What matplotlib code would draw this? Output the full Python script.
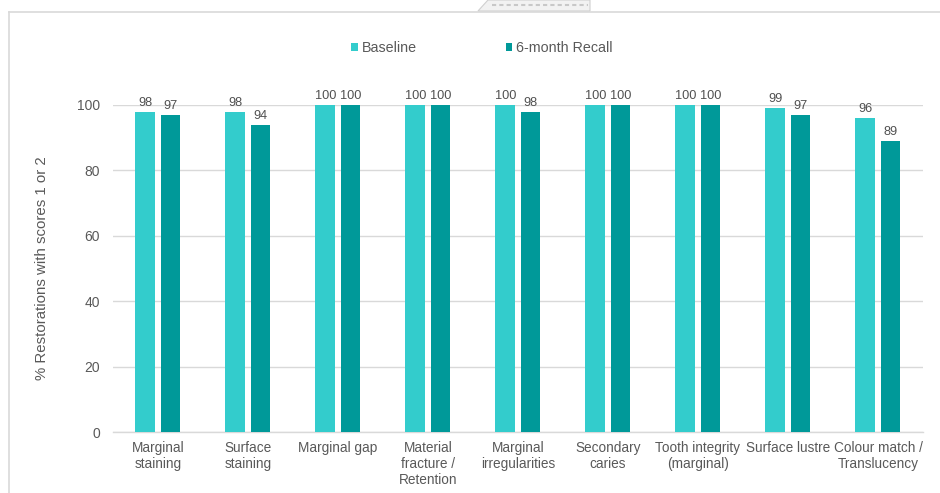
import matplotlib
matplotlib.use("Agg")
import matplotlib.pyplot as plt
import numpy as np
from matplotlib.lines import Line2D
from matplotlib.patches import Polygon

plt.rcParams['font.family'] = ['Liberation Sans', 'DejaVu Sans']

categories = [
    "Marginal\nstaining",
    "Surface\nstaining",
    "Marginal gap",
    "Material\nfracture /\nRetention",
    "Marginal\nirregularities",
    "Secondary\ncaries",
    "Tooth integrity\n(marginal)",
    "Surface lustre",
    "Colour match /\nTranslucency",
]
baseline = [98, 98, 100, 100, 100, 100, 100, 99, 96]
recall = [97, 94, 100, 100, 98, 100, 100, 97, 89]
series_names = ["Baseline", "6-month Recall"]
yticks = [0, 20, 40, 60, 80, 100]

c_base = "#33CCCC"
c_recall = "#009999"
grid_c = "#D9D9D9"
text_c = "#595959"

fig = plt.figure(figsize=(9.4, 4.93), dpi=100)
ax = fig.add_axes([0.1202, 1 - 432 / 493, 0.8617, (432 - 105) / 493])

x = np.arange(len(categories))
w = 0.222
off = 0.139
b1 = ax.bar(x - off, baseline, width=w, color=c_base, label=series_names[0], zorder=3)
b2 = ax.bar(x + off, recall, width=w, color=c_recall, label=series_names[1], zorder=3)

for bars, vals in ((b1, baseline), (b2, recall)):
    for rect, v in zip(bars, vals):
        ax.annotate(f"{v:g}", (rect.get_x() + rect.get_width() / 2, v),
                    xytext=(0, 2), textcoords="offset points",
                    ha="center", va="bottom", fontsize=9.2, color="#505050",
                    annotation_clip=False)

ax.set_xlim(-0.5, len(categories) - 0.5)
ax.set_ylim(0, 100)
ax.set_yticks(yticks)
ax.set_yticklabels([str(t) for t in yticks])
ax.set_xticks(x)
ax.set_xticklabels(categories, fontsize=9.8, color=text_c, linespacing=1.2)
ax.tick_params(axis="y", length=0, pad=9.5, labelsize=10, labelcolor=text_c)
ax.tick_params(axis="x", length=0, pad=6.5)
ax.yaxis.grid(True, color=grid_c, linewidth=1, zorder=0)
ax.set_axisbelow(True)
for s in ("top", "right", "left"):
    ax.spines[s].set_visible(False)
ax.spines["bottom"].set_color(grid_c)
ax.spines["bottom"].set_linewidth(1)
ax.set_ylabel("% Restorations with scores 1 or 2", fontsize=10.8, color=text_c, labelpad=20)

fig.legend(handles=[b1, b2], labels=series_names, loc="center",
           bbox_to_anchor=(482 / 940, 1 - 48 / 493), ncol=2, frameon=False,
           fontsize=10.3, labelcolor=text_c, handlelength=0.45, handleheight=0.45,
           handletextpad=0.3, columnspacing=6.2)

# outer frame of the chart area
fig.add_artist(Line2D([9 / 940, 9 / 940], [0, 1 - 12 / 493], transform=fig.transFigure,
                      color=grid_c, linewidth=1.2))
fig.add_artist(Line2D([9 / 940, 1], [1 - 12 / 493, 1 - 12 / 493], transform=fig.transFigure,
                      color=grid_c, linewidth=1.2))
# small tab at the top edge
tab = Polygon([(478 / 940, 1 - 11 / 493), (488 / 940, 1), (590 / 940, 1), (590 / 940, 1 - 11 / 493)],
              closed=True, transform=fig.transFigure, facecolor="#F2F2F2",
              edgecolor="#D0D0D0", linewidth=0.8)
fig.add_artist(tab)
fig.add_artist(Line2D([492 / 940, 588 / 940], [1 - 5 / 493, 1 - 5 / 493], transform=fig.transFigure,
                      color="#C8C8C8", linewidth=1.5, linestyle=(0, (2, 1.5))))

fig.savefig("out.png", dpi=100)
